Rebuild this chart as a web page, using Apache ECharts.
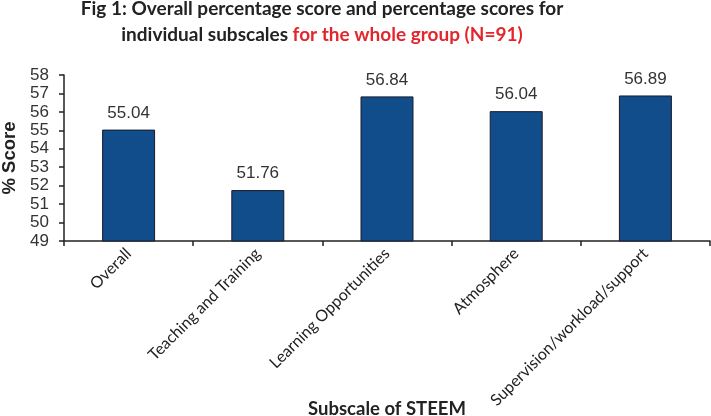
<!DOCTYPE html>
<html><head><meta charset="utf-8">
<script src="https://cdn.jsdelivr.net/npm/echarts@6/dist/echarts.min.js"></script>
<style>html,body{margin:0;padding:0;background:#fff}#c{width:711px;height:416px}</style>
</head><body><div id="c"></div>
<script>
const categories = ["Overall", "Teaching and Training", "Learning Opportunities", "Atmosphere", "Supervision/workload/support"];
const scores = [55.04, 51.76, 56.84, 56.04, 56.89];
const yTicks = { min: 49, max: 58, interval: 1 };

const chart = echarts.init(document.getElementById('c'));
chart.setOption({
  animation: false,
  backgroundColor: '#fff',
  title: {
    text: 'Fig 1: Overall percentage score and percentage scores for\nindividual subscales {r|for the whole group (N=91)}',
    left: 317, top: -9, textAlign: 'center',
    textStyle: {
      fontFamily: 'Lato', fontWeight: 'bold', fontSize: 19, color: '#222', lineHeight: 26, align: 'center',
      rich: { r: { color: '#e3262c', fontFamily: 'Lato', fontWeight: 'bold', fontSize: 19, lineHeight: 26 } }
    }
  },
  grid: { left: 64, right: 1, top: 75, bottom: 175, outerBoundsMode: 'none', containLabel: false },
  xAxis: {
    type: 'category', data: categories,
    name: 'Subscale of STEEM', nameLocation: 'middle', nameGap: 159, nameMoveOverlap: false,
    nameTextStyle: { fontFamily: 'Lato', fontWeight: 'bold', fontSize: 18.5, color: '#222' },
    axisLine: { lineStyle: { color: '#222', width: 1.5 } },
    axisTick: { show: true, length: 5, lineStyle: { color: '#222', width: 1.5 } },
    axisLabel: { rotate: 45, interval: 0, fontFamily: 'Lato', fontSize: 16, color: '#222', margin: 10 }
  },
  yAxis: {
    type: 'value', min: yTicks.min, max: yTicks.max, interval: yTicks.interval,
    name: '% Score', nameLocation: 'middle', nameGap: 45, nameMoveOverlap: false,
    nameTextStyle: { fontFamily: 'Liberation Sans', fontWeight: 'bold', fontSize: 18.5, color: '#222' },
    axisLine: { show: true, lineStyle: { color: '#222', width: 1.5 } },
    axisTick: { show: true, inside: false, length: 5, lineStyle: { color: '#222', width: 1.5 } },
    splitLine: { show: false },
    axisLabel: { fontFamily: 'Liberation Sans', fontSize: 17, color: '#333', margin: 15 }
  },
  series: [{
    type: 'bar', data: scores, barWidth: '41%',
    itemStyle: { color: '#114c8b', borderColor: '#1a1a2a', borderWidth: 1 },
    label: { show: true, position: 'top', distance: 8, fontFamily: 'Liberation Sans', fontSize: 17, color: '#333',
      formatter: p => p.value.toFixed(2) }
  }]
});
</script></body></html>
